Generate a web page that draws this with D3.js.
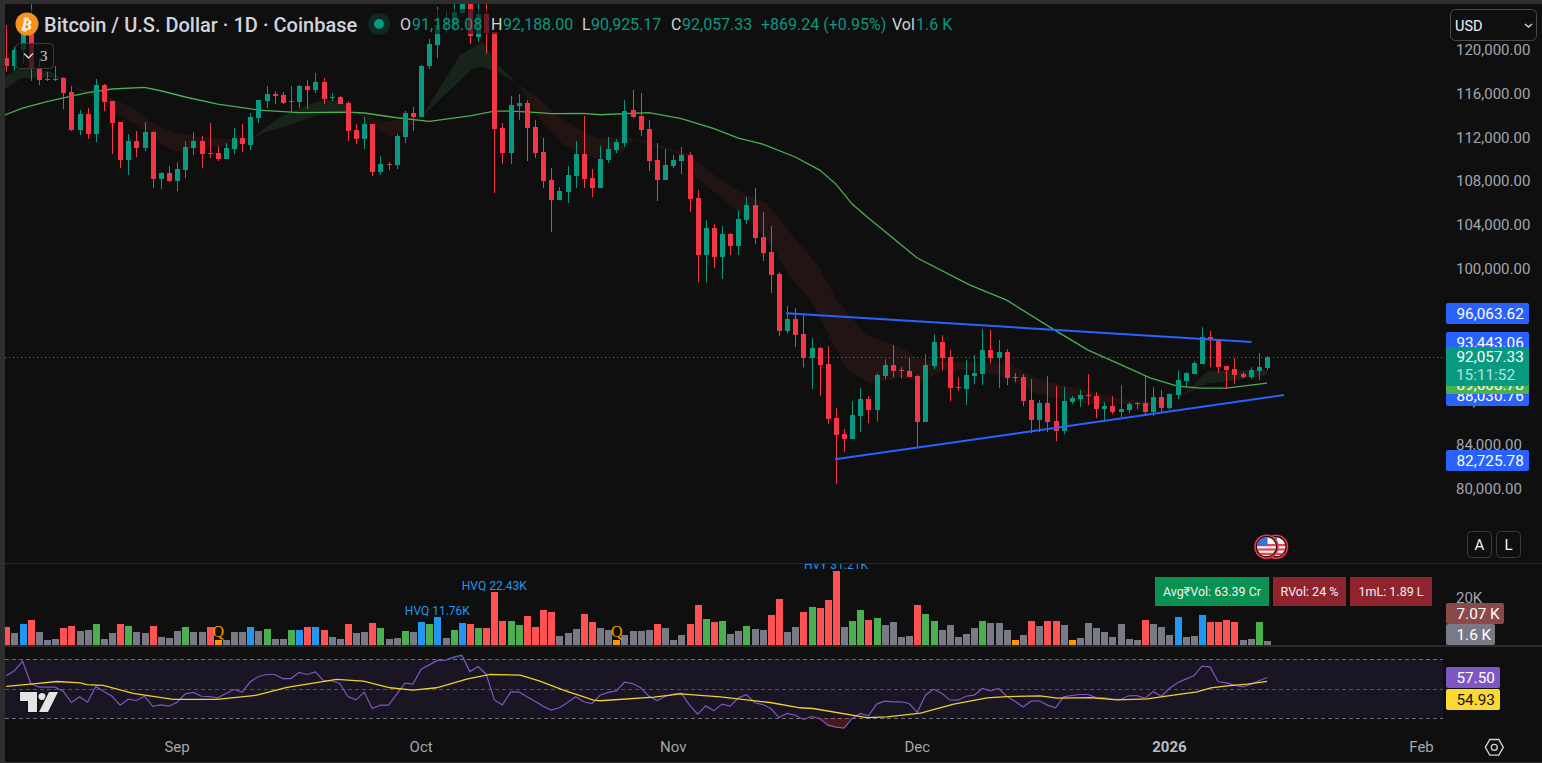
<!DOCTYPE html>
<html><head><meta charset="utf-8">
<style>
html,body{margin:0;padding:0;background:#0f0f0f;overflow:hidden}
svg{display:block}
text{font-family:Roboto,"Noto Sans",sans-serif}
</style>
<script src="https://cdn.jsdelivr.net/npm/d3@7/dist/d3.min.js"></script>
</head><body><svg id="c" width="1542" height="763"></svg>
<script>
// Daily candles, thousands of USD (index 0 = 11 Aug 2025)
const opens=[119.19,118.49,119.95,121.47,118.22,117.24,117.28,117.40,116.12,112.65,114.08,112.29,116.76,115.30,113.38,109.92,111.65,111.01,112.47,108.19,108.73,108.00,109.01,111.01,111.65,110.53,110.53,110.01,110.92,111.92,111.29,113.75,115.30,115.94,115.85,115.24,115.21,116.67,116.30,117.03,115.57,115.66,115.12,112.65,111.83,113.20,108.82,109.58,109.46,112.02,114.20,113.84,118.49,120.41,122.20,122.23,123.35,125.30,121.17,123.23,121.59,112.84,110.56,114.84,115.12,112.93,110.65,108.10,106.27,107.00,108.46,110.47,108.28,107.37,109.92,110.83,111.47,114.48,113.93,112.75,109.92,108.10,109.37,109.83,110.38,106.45,101.26,103.72,101.08,103.17,102.08,104.45,105.82,102.90,101.53,99.52,94.33,95.42,94.05,91.86,92.78,91.32,86.39,84.93,84.48,86.57,88.12,87.12,90.22,91.22,90.77,90.68,90.22,86.03,91.13,93.32,91.95,89.22,89.04,90.22,90.40,92.60,91.86,92.41,90.13,90.13,88.03,86.21,87.76,86.12,85.21,87.85,88.12,88.49,88.40,87.21,87.49,86.94,87.12,87.70,87.76,86.94,88.31,87.30,88.49,89.77,90.40,91.32,93.78,93.60,91.13,90.86,90.41,90.13,90.68,90.95];
const highs=[122.23,120.25,121.93,124.11,119.19,117.97,118.49,117.46,116.67,114.48,114.66,117.31,116.85,115.30,113.38,112.29,112.56,113.38,112.56,108.82,109.37,109.73,111.65,112.47,112.11,113.29,111.19,111.47,112.84,113.20,114.20,115.39,116.67,116.21,116.12,116.67,116.76,117.21,117.85,117.40,116.03,115.75,115.30,113.20,113.84,113.20,110.28,109.74,112.29,114.39,114.75,118.58,120.95,123.87,123.50,124.15,125.50,126.20,124.15,124.15,121.59,113.29,115.76,115.94,115.39,113.57,111.93,109.19,107.46,109.37,111.65,113.93,109.10,111.20,112.02,111.83,115.39,116.30,116.03,113.57,111.47,110.92,110.38,111.11,110.65,107.18,104.45,104.08,103.90,103.26,105.36,106.55,107.37,105.18,103.90,99.71,96.61,96.42,95.79,93.69,92.87,92.96,87.30,85.39,87.94,89.13,88.40,90.50,91.77,93.05,91.04,91.86,90.31,92.23,94.05,93.96,92.59,90.13,91.68,92.14,94.51,94.42,93.51,92.69,90.50,90.41,89.95,88.03,90.22,89.31,89.22,88.40,88.95,90.41,88.76,87.85,88.40,89.40,87.85,87.85,90.22,89.22,88.95,88.67,90.77,90.59,91.59,94.69,94.33,93.60,91.13,91.86,90.59,91.04,92.32,92.05];
const lows=[117.97,118.07,118.73,117.15,116.76,117.12,117.12,114.57,112.56,112.20,111.83,111.56,114.39,110.47,109.19,108.55,110.19,110.74,107.36,107.27,107.91,107.09,108.28,110.37,109.19,110.10,109.83,110.01,110.47,110.65,110.83,113.29,114.66,115.03,115.03,114.30,114.66,114.57,116.03,115.03,115.30,115.03,111.65,111.38,110.92,108.46,108.55,109.01,109.10,111.47,112.56,113.84,118.22,119.22,121.50,121.77,123.23,120.50,120.68,119.58,106.91,109.55,109.55,113.57,109.83,110.10,107.37,103.35,106.27,106.00,107.37,107.37,106.55,107.37,109.65,110.56,111.11,113.75,112.11,108.92,106.18,108.10,109.19,108.64,105.18,98.79,98.79,100.07,99.07,101.26,101.26,104.08,102.26,100.71,97.79,93.87,94.14,92.87,91.04,89.04,88.40,85.85,80.37,83.29,84.48,85.11,85.94,86.12,89.95,90.13,90.04,90.13,83.66,86.03,90.86,90.77,87.94,88.86,87.58,89.49,89.40,91.41,89.13,89.40,89.68,87.49,85.02,85.11,85.11,84.30,84.93,87.67,87.40,87.58,86.39,86.21,86.76,86.48,86.85,87.21,86.57,86.57,86.94,87.21,88.12,89.13,90.40,91.32,91.04,90.50,89.04,89.49,90.04,89.95,89.86,90.77];
const closes=[118.49,119.95,121.47,118.28,117.21,117.31,117.34,116.06,112.65,114.08,112.29,116.76,115.21,113.29,109.92,111.65,111.01,112.47,108.19,108.73,108.00,109.10,111.10,111.65,110.47,110.47,110.01,111.01,111.92,111.38,113.84,115.39,115.94,115.75,115.12,115.30,116.67,116.30,117.03,115.48,115.63,115.03,112.56,111.83,113.20,108.82,109.55,109.52,112.11,114.20,113.84,118.49,120.50,122.23,122.30,123.42,124.90,121.17,123.23,121.53,112.75,110.56,114.94,115.12,112.84,110.56,108.00,106.27,107.09,108.55,110.47,108.19,107.37,110.01,110.92,111.56,114.39,113.84,112.66,109.83,108.10,109.46,109.92,110.38,106.36,101.26,103.72,101.08,103.17,102.08,104.54,105.82,102.81,101.44,99.43,94.32,95.42,93.96,91.86,92.78,91.22,86.30,84.84,84.48,86.66,88.12,87.12,90.31,91.22,90.68,90.68,90.13,86.03,91.22,93.32,91.86,89.13,89.13,90.31,90.50,92.60,91.86,92.41,90.04,90.07,87.94,86.21,87.76,86.03,85.21,87.94,88.22,88.49,88.43,87.21,87.49,86.94,87.21,87.67,87.76,86.94,88.31,87.30,88.58,89.86,90.50,91.41,93.78,93.51,91.04,90.77,90.31,90.13,90.77,91.04,91.96];

// Volume, thousands of BTC, with the highlight class of each bar (ten days per string)
const volumes=[7.62,5.08,8.90,10.59,5.51,2.12,2.54,7.20,8.05,5.93,6.35,8.90,2.54,5.08,8.90,8.05,5.51,5.08,8.05,3.39,2.97,5.93,7.62,5.51,5.51,7.62,2.12,2.12,5.51,5.51,7.62,5.93,6.78,2.54,2.54,6.35,6.35,7.62,7.62,6.35,3.39,2.54,8.90,5.08,5.51,9.32,7.20,2.54,2.97,5.93,5.51,9.74,8.90,11.76,2.97,6.35,9.32,8.90,7.20,7.20,22.43,10.17,10.17,8.47,12.28,7.62,14.83,13.98,3.81,5.08,6.78,13.13,9.74,7.20,6.35,2.12,4.24,5.93,5.93,6.35,8.90,7.20,2.12,4.24,8.90,16.94,11.01,9.74,10.17,4.66,5.93,8.05,6.78,6.35,12.71,19.49,5.51,7.62,13.98,16.10,15.67,19.06,31.21,7.62,10.17,14.83,10.59,11.44,8.47,9.74,3.39,3.81,16.94,13.13,10.17,6.35,8.47,3.39,4.66,7.20,10.17,9.32,9.32,6.35,2.12,4.24,10.17,8.05,10.17,10.17,8.47,2.12,2.97,9.32,7.20,5.51,3.39,8.90,2.54,2.12,10.59,8.90,7.62,4.24,11.86,3.39,3.81,12.71,9.74,9.74,10.59,9.74,2.12,2.54,9.74,1.60];
const volumeClass=["rnbrnnnrrn","ngnnrgnnrn","nngnnrqnnn","bngnngbrbr","nnrnnrgnng","nbgbngbrgr","rrggrrrrnn","nrrnnqnnnn","rnnnrrgrgn","ngnnrrnnrg","rrrnggrgnn","nnrggnnnnn","gnnnqnrnrr","nqnnnnnnnn","rnnnbnnbrr","rrnngn"].join("").split("");

// RSI and its moving average
const rsi=[58.7,62.1,68.7,53.4,50.9,50.9,50.9,48.2,40.4,44.3,40.6,51.4,47.9,44.7,38.6,42.7,41.8,44.7,37.7,38.8,37.9,40.6,46.3,47.3,44.7,44.5,43.6,46.6,49.3,47.5,54.6,58.2,59.6,59.6,56.8,56.8,61.0,59.6,61.4,55.3,55.3,53.4,44.5,42.2,47.5,36.3,38.6,38.6,46.1,53.7,53.0,63.2,66.2,69.2,69.4,71.5,72.8,61.6,65.1,59.8,42.2,38.8,47.5,47.7,44.3,41.3,37.9,35.2,36.8,40.4,44.3,40.9,39.7,45.4,47.3,48.4,54.3,53.4,50.5,44.7,41.8,44.5,46.1,46.8,38.6,32.4,38.1,34.7,39.3,37.9,43.6,45.7,40.4,39.0,36.3,30.1,32.9,31.7,28.8,30.8,29.5,24.9,23.5,22.8,29.5,32.9,31.3,39.3,41.3,40.9,40.9,39.7,33.6,45.4,49.5,46.8,42.2,42.0,44.7,45.4,50.0,48.4,50.0,44.7,41.3,37.4,41.3,41.6,38.6,36.8,44.3,45.2,45.9,45.9,43.8,43.6,42.5,42.5,45.0,45.2,43.2,47.9,44.7,50.0,53.9,56.4,58.7,65.3,64.8,54.6,53.9,52.3,51.1,52.7,55.3,57.5];
const rsiMaDays=[0,3.3,6.2,9.1,9.9,11.9,15.6,20.5,25.9,30.8,34.5,40.6,43.9,47.2,50,52.9,56.6,59.5,63.2,65.6,68.5,72.2,73,79.6,82.9,87.8,93.9,97.6,99.2,105.8,108.3,112.4,116.5,120.6,123,127.1,129.2,133.3,136.6,140.3,143.5,146.4,148.1,150.1,152.6,155];
const rsiMa=[51.4,53.2,54.8,53.9,52.7,52.1,46.6,42.5,42.5,45.4,50.7,56.2,55.0,50.5,48.9,50.5,56.4,59.6,59.1,55.0,48.9,42.0,41.6,44.1,46.3,44.3,40.4,36.8,36.3,30.1,30.6,33.1,39.3,43.6,44.5,45.0,43.4,43.8,42.2,42.9,45.4,47.7,50.5,51.8,53.0,54.93];

// Slow moving average (green line), thousands of USD
const smaDays=[-0.2,2,5,8,10,13,17,19,22,26,31,36,42,44,48,52,57,60,62,65,67,71,73,79,83,87,90,93,97,100,102,104,106,107.5,112,118.5,123,128.7,133,136.6,140.7,144,146.8,150,153,155];
const sma=[114.03,114.66,115.24,115.76,116.06,116.40,116.55,116.24,115.67,115.03,114.48,114.24,114.30,114.21,113.78,113.45,113.94,114.39,114.39,114.27,114.15,114.18,114.05,114.24,113.69,112.78,111.93,111.38,110.20,109.01,107.73,105.91,104.63,103.72,100.99,98.52,97.15,94.51,92.60,91.41,90.04,89.31,89.13,89.13,89.40,89.59];

// Moving-average ribbon, one pair of edges per stretch: [day, price]
const ribbonBull1Up=[[-0.2,117.52],[1.7,118.28],[5.4,117.97],[7.2,117.27]];
const ribbonBull1Lo=[[-0.2,116.39],[1.9,117.40],[5.4,117.46],[7.2,117.27]];
const ribbonBear1Up=[[7.2,117.27],[9.1,116.45],[12.7,115.69],[15.6,114.63],[17.7,113.41],[20.5,112.44],[23.8,112.05],[27.9,111.74],[30,111.89]];
const ribbonBear1Lo=[[7.2,117.27],[9.1,116.15],[11.5,115.39],[13.6,114.17],[16.4,112.96],[18.9,111.44],[20.9,110.68],[24.6,111.13],[27.9,111.13],[30,111.80]];
const ribbonBull2Up=[[30,111.80],[32,112.96],[34.1,114.02],[38.2,115.24],[41,115.39],[42.7,114.39]];
const ribbonBull2Lo=[[30,111.80],[32,112.50],[35.3,113.20],[38.2,114.02],[41,114.17],[42.7,114.39]];
const ribbonBear2Up=[[42.7,114.39],[46.4,113.41],[51.1,113.87]];
const ribbonBear2Lo=[[42.7,114.39],[45.5,112.81],[47.2,112.05],[48.8,112.50],[51.1,113.87]];
const ribbonBull3Up=[[51.1,113.87],[55.8,119.49],[58.6,120.71],[60.3,118.73],[62.8,116.91]];
const ribbonBull3Lo=[[51.1,113.87],[54.1,116.0],[57.4,118.28],[58.6,118.43],[60.3,117.97],[62.8,116.91]];
const ribbonBear3Up=[[62.8,116.91],[65.2,115.70],[67.7,114.02],[70.2,112.81],[72.6,111.90],[76.3,112.05],[78.8,111.59],[83.7,110.53],[87,108.55],[90.2,107.03],[93.5,105.97],[96.8,102.93],[99.9,100.19],[102.1,97.15],[105.8,93.96],[110.3,92.75],[112,91.83],[115.25,91.53],[123.4,91.38],[126.7,90.01],[128.4,89.70],[132.5,88.95],[136.6,88.19],[140.7,87.88],[144.4,88.34]];
const ribbonBear3Lo=[[62.8,116.91],[66,113.26],[68.5,111.29],[70.6,110.53],[73,109.92],[75.5,110.53],[77.1,111.74],[78.8,111.44],[83.7,110.22],[84.9,108.25],[87.8,106.58],[91.1,104.45],[94.3,102.02],[96,99.58],[98.9,97.15],[103.4,90.77],[106.2,89.55],[109.5,90.01],[112.8,89.86],[115.25,90.77],[118.5,90.77],[122.6,90.16],[126.7,88.64],[128.4,88.34],[130.4,88.03],[133.3,87.73],[136.6,87.73],[140.7,87.43],[144.4,88.34]];
const ribbonBull4Up=[[144.4,88.34],[147.6,90.62],[150.9,90.77],[155,90.77]];
const ribbonBull4Lo=[[144.4,88.34],[147.6,89.55],[150.9,89.86],[155,90.31]];

// Hand-drawn trend lines: [day, price]
const trendUpper=[[95.9,95.95],[153.1,93.34]];
const trendLower=[[101.9,82.64],[157.1,88.50]];

// Axis labels
const priceTicks=[120,116,112,108,104,100,96,92,88,84,80];
const monthDays=[21,51,82,112,143,174];
const monthLabels=["Sep","Oct","Nov","Dec","2026","Feb"];
const hvLabels=[{day:53,text:"HVQ 11.76K"},{day:60,text:"HVQ 22.43K"},{day:102,text:"HVY 31.21K"}];
const qDays=[26,75];

const W=1542,H=763,RIGHT=1443,TOP=4,LEFT=5;
const BG="#0f0f0f",UP="#089981",DN="#f23645";
const VOLCOL={r:"#ff5252",g:"#4caf50",b:"#2196f3",n:"#787b86",q:"#ff9800"};

const x=d3.scaleLinear().domain([0,155]).range([6.3,1267]);
const y=d3.scaleLinear().domain([120,80]).range([49.5,488.3]);
const yVol=d3.scaleLinear().domain([0,20]).range([645,597.8]);
const yRsi=d3.scaleLinear().domain([70,30]).range([659.3,717.7]);

const svg=d3.select("#c");
svg.append("rect").attr("width",W).attr("height",H).attr("fill",BG);
const defs=svg.append("defs");
const clip=(id,a,b,c,d)=>defs.append("clipPath").attr("id",id).append("rect").attr("x",a).attr("y",b).attr("width",c-a).attr("height",d-b);
clip("plot",LEFT,TOP,RIGHT,563);
clip("volp",LEFT,564,RIGHT,645);
clip("rsip",LEFT,647,RIGHT,735);
clip("below30",LEFT,717.7,RIGHT,735);
clip("above70",LEFT,647,RIGHT,659.3);

// ---- price pane
const pp=svg.append("g").attr("clip-path","url(#plot)");
const lineP=d3.line().x(d=>x(d[0])).y(d=>y(d[1]));
const ribbons=[[ribbonBull1Up,ribbonBull1Lo,1],[ribbonBear1Up,ribbonBear1Lo,0],[ribbonBull2Up,ribbonBull2Lo,1],[ribbonBear2Up,ribbonBear2Lo,0],[ribbonBull3Up,ribbonBull3Lo,1],[ribbonBear3Up,ribbonBear3Lo,0],[ribbonBull4Up,ribbonBull4Lo,1]];
pp.selectAll("path.rb").data(ribbons).join("path").attr("class","rb")
  .attr("d",d=>lineP(d[0].concat(d[1].slice().reverse()))+"Z")
  .attr("fill",d=>d[2]?"#18231a":"#211413");
pp.append("path").datum(smaDays.map((d,i)=>[d,sma[i]])).attr("d",lineP)
  .attr("fill","none").attr("stroke","#4caf50").attr("stroke-width",1.3);
pp.append("line").attr("x1",LEFT).attr("x2",RIGHT).attr("y1",Math.round(y(closes[155]))+.5).attr("y2",Math.round(y(closes[155]))+.5)
  .attr("stroke",UP).attr("stroke-dasharray","1 3");
const cg=pp.append("g");
opens.forEach((o,i)=>{
  const c=closes[i],col=c>=o?UP:DN,cx=Math.round(x(i));
  cg.append("line").attr("x1",cx+.5).attr("x2",cx+.5).attr("y1",y(highs[i])).attr("y2",y(lows[i])).attr("stroke",col);
  const t=y(Math.max(o,c)),b=y(Math.min(o,c));
  cg.append("rect").attr("x",cx-2).attr("width",5).attr("y",Math.round(t)).attr("height",Math.max(1,Math.round(b-t))).attr("fill",col);
});
[trendUpper,trendLower].forEach(t=>pp.append("path").datum(t).attr("d",lineP).attr("fill","none").attr("stroke","#2962ff").attr("stroke-width",2));

// legend backdrops dim the candles beneath them
svg.append("rect").attr("x",LEFT+5).attr("y",9).attr("width",950).attr("height",25).attr("fill",BG).attr("opacity",.6);
svg.append("rect").attr("x",15).attr("y",43).attr("width",39).attr("height",26).attr("fill",BG).attr("opacity",.7);

// ---- price axis
const ax=svg.append("g").attr("transform","translate(1450,0)").call(d3.axisRight(y).tickValues(priceTicks).tickSize(0).tickPadding(6).tickFormat(d=>d3.format(",.2f")(d*1000)));
ax.select(".domain").remove();
ax.selectAll("text").attr("fill","#a3a6af").attr("font-size",15).style("font-family","Roboto");

// ---- volume pane
const vp=svg.append("g").attr("clip-path","url(#volp)");
vp.selectAll("rect").data(volumes).join("rect")
  .attr("x",(d,i)=>Math.round(x(i))-3).attr("width",7)
  .attr("y",d=>Math.round(yVol(d))).attr("height",d=>645-Math.round(yVol(d)))
  .attr("fill",(d,i)=>VOLCOL[volumeClass[i]]);
vp.selectAll("text.hv").data(hvLabels).join("text").attr("class","hv")
  .attr("x",d=>x(d.day)).attr("y",d=>yVol(volumes[d.day])-2).attr("text-anchor","middle")
  .attr("font-size",12).attr("fill","#2196f3").text(d=>d.text);
vp.selectAll("text.q").data(qDays).join("text").attr("class","q")
  .attr("x",d=>x(d)+.5).attr("y",d=>yVol(volumes[d])-3).attr("text-anchor","middle")
  .attr("font-size",16).attr("fill","#ff9800").style("font-family","'Liberation Serif'").text("Q");
const vax=svg.append("g").attr("transform","translate(1450,0)").call(d3.axisRight(yVol).tickValues([20]).tickSize(0).tickPadding(6).tickFormat(d=>d+"K"));
vax.select(".domain").remove();
vax.selectAll("text").attr("fill","#a3a6af").attr("font-size",15).style("font-family","Roboto");

// ---- rsi pane
const rp=svg.append("g").attr("clip-path","url(#rsip)");
rp.append("rect").attr("x",LEFT).attr("y",yRsi(70)).attr("width",RIGHT-LEFT+2).attr("height",yRsi(30)-yRsi(70)).attr("fill","#191522");
[70,50,30].forEach(v=>rp.append("line").attr("x1",LEFT).attr("x2",RIGHT+2).attr("y1",Math.round(yRsi(v))+.5).attr("y2",Math.round(yRsi(v))+.5)
  .attr("stroke","#787b86").attr("stroke-opacity",v==50?.6:.9).attr("stroke-dasharray","4 3"));
rp.append("path").datum(rsi).attr("clip-path","url(#below30)")
  .attr("d",d3.area().x((d,i)=>x(i)).y0(yRsi(30)).y1(d=>yRsi(d))).attr("fill","#f23645").attr("opacity",.25);
rp.append("path").datum(rsi).attr("clip-path","url(#above70)")
  .attr("d",d3.area().x((d,i)=>x(i)).y0(yRsi(70)).y1(d=>yRsi(d))).attr("fill","#089981").attr("opacity",.25);
rp.append("path").datum(rsi).attr("d",d3.line().x((d,i)=>x(i)).y(d=>yRsi(d))).attr("fill","none").attr("stroke","#7e57c2").attr("stroke-width",1.2);
rp.append("path").datum(rsiMaDays.map((d,i)=>[d,rsiMa[i]])).attr("d",d3.line().x(d=>x(d[0])).y(d=>yRsi(d[1]))).attr("fill","none").attr("stroke","#f0cf30").attr("stroke-width",1.3);

// TradingView mark
const tv=svg.append("g").attr("fill","#e4e4e4").attr("stroke","#0f0f0f").attr("stroke-width",2).attr("paint-order","stroke");
tv.append("path").attr("d","M20 692H37V712H28V701H20Z");
tv.append("circle").attr("cx",42).attr("cy",696.5).attr("r",3.6);
tv.append("path").attr("d","M49 692H58L48 712H39Z");

// ---- separators and frame
svg.append("rect").attr("x",LEFT).attr("y",563).attr("width",W).attr("height",1).attr("fill","#2a2a2a");
svg.append("rect").attr("x",LEFT).attr("y",645).attr("width",W).attr("height",2).attr("fill","#2a2a2a");
svg.append("rect").attr("width",W).attr("height",TOP).attr("fill","#2e2e2e");
svg.append("rect").attr("width",LEFT).attr("height",H).attr("fill","#2e2e2e");
svg.append("rect").attr("y",762).attr("width",W).attr("height",1).attr("fill","#2e2e2e");

// ---- axis tags
function tag(x0,x1,y0,y1,fill,lines,col){
  svg.append("rect").attr("x",x0).attr("y",y0).attr("width",x1-x0).attr("height",y1-y0).attr("rx",2).attr("fill",fill);
  lines.forEach(l=>svg.append("text").attr("x",l[2]||x0+10.5).attr("y",l[1]).attr("font-size",15.3).attr("fill",l[3]||col).text(l[0]));
}
tag(1446,1529,303,324,"#2962ff",[["96,063.62",319]],"#fff");
tag(1446,1529,385,406,"#2962ff",[["88,030.76",401]],"#fff");
tag(1446,1529,374,394,"#4caf50",[["89,608.78",390]],"#fff");
tag(1446,1529,332,353,"#2962ff",[["93,443.06",347.5]],"#fff");
tag(1446,1529,347,386,UP,[["92,057.33",362],["15:11:52",380,1456,"#b7e0d8"]],"#fff");
tag(1446,1529,450,471,"#2962ff",[["82,725.78",465.5]],"#fff");
tag(1446,1504,603,624,"#8b4a4a",[["7.07 K",619]],"#fff");
tag(1446,1495,624,645,"#787b86",[["1.6 K",640]],"#fff");
tag(1446,1500,667,688,"#7e57c2",[["57.50",682.5]],"#fff");
tag(1446,1500,689,710,"#fdd835",[["54.93",705]],"#111");

// stat chips
[[1155,1269,"#089150","Avg₹Vol: 63.39 Cr"],[1273,1346,"#90242e","RVol: 24 %"],[1350,1432,"#90242e","1mL: 1.89 L"]].forEach(c=>{
  svg.append("rect").attr("x",c[0]).attr("y",577).attr("width",c[1]-c[0]).attr("height",29).attr("fill",c[2]);
  svg.append("text").attr("x",(c[0]+c[1])/2).attr("y",596).attr("text-anchor","middle").attr("font-size",12.5).attr("fill","#f0f0f0").text(c[3]);
});

// ---- time axis
svg.selectAll("text.m").data(monthLabels).join("text").attr("class","m")
  .attr("x",(d,i)=>x(monthDays[i])).attr("y",752).attr("text-anchor","middle").attr("font-size",15)
  .attr("font-weight",d=>d==="2026"?700:400).attr("fill",d=>d==="2026"?"#b8bbc2":"#a3a6af").text(d=>d);
const hex=d3.range(6).map(i=>[1494.3+9*Math.cos(i*Math.PI/3),747.3+9*Math.sin(i*Math.PI/3)]);
svg.append("path").attr("d",d3.line()(hex)+"Z").attr("fill","none").attr("stroke","#d1d4dc").attr("stroke-width",1.3);
svg.append("circle").attr("cx",1494.3).attr("cy",747.3).attr("r",3).attr("fill","none").attr("stroke","#d1d4dc").attr("stroke-width",1.3);

// ---- legend
svg.append("circle").attr("cx",27).attr("cy",24).attr("r",11.5).attr("fill","#f7931a");
svg.append("text").attr("x",27).attr("y",29.5).attr("text-anchor","middle").attr("font-size",15).attr("font-weight",700).attr("fill","#fff").style("font-family","'DejaVu Sans'").attr("transform","rotate(12 27 24)").text("₿");
svg.append("text").attr("x",44).attr("y",31.5).attr("font-size",20).attr("font-weight",500).attr("fill","#d1d4dc").text("Bitcoin / U.S. Dollar · 1D · Coinbase");
svg.append("circle").attr("cx",379).attr("cy",24).attr("r",11).attr("fill","#0f2a26");
svg.append("circle").attr("cx",379).attr("cy",24).attr("r",5).attr("fill",UP);
const lg=[["O",400,"#d1d4dc"],["91,188.08",412,UP],["H",491,"#d1d4dc"],["92,188.00",503,UP],["L",582,"#d1d4dc"],["90,925.17",591,UP],["C",671,"#d1d4dc"],["92,057.33",682,UP],["+869.24 (+0.95%)",761,UP],["Vol",892,"#d1d4dc"],["1.6 K",916,UP]];
lg.forEach(l=>svg.append("text").attr("x",l[1]).attr("y",30).attr("font-size",16).attr("fill",l[2]).text(l[0]));

// collapse button
svg.append("rect").attr("x",15.5).attr("y",43.5).attr("width",38).attr("height",25).attr("rx",4).attr("fill","none").attr("stroke","#3a3a3a");
svg.append("path").attr("d","M24 53.5L28.5 58L33 53.5").attr("fill","none").attr("stroke","#d1d4dc").attr("stroke-width",1.5);
svg.append("text").attr("x",40).attr("y",61).attr("font-size",15).attr("fill","#d1d4dc").style("font-family","'Liberation Serif'").text("3");

// currency box
svg.append("rect").attr("x",1450.5).attr("y",9.5).attr("width",86).attr("height",31).attr("rx",5).attr("fill",BG).attr("stroke","#4a4a4a");
svg.append("text").attr("x",1455).attr("y",31).attr("font-size",14.5).attr("fill","#f0f3fa").text("USD");
svg.append("path").attr("d","M1525 24L1528.5 27L1532 24").attr("fill","none").attr("stroke","#d1d4dc").attr("stroke-width",1.4);

// A / L buttons
[[1467,"A"],[1496,"L"]].forEach(b=>{
  svg.append("rect").attr("x",b[0]+.5).attr("y",531.5).attr("width",24).attr("height",26).attr("rx",4).attr("fill","none").attr("stroke","#3a3a3a");
  svg.append("text").attr("x",b[0]+12.5).attr("y",550).attr("text-anchor","middle").attr("font-size",15).attr("fill","#f0f3fa").text(b[1]);
});

// news flags
function flag(cx){
  const g=svg.append("g");
  const id="f"+Math.round(cx);
  defs.append("clipPath").attr("id",id).append("circle").attr("cx",cx).attr("cy",546.7).attr("r",9.5);
  g.append("circle").attr("cx",cx).attr("cy",546.7).attr("r",11.5).attr("fill",BG).attr("stroke",DN).attr("stroke-width",1.6);
  const f=g.append("g").attr("clip-path",`url(#${id})`);
  f.append("rect").attr("x",cx-10).attr("y",537).attr("width",20).attr("height",20).attr("fill","#f5f5f5");
  d3.range(3).forEach(i=>f.append("rect").attr("x",cx-10).attr("y",544+i*4.4).attr("width",20).attr("height",2.2).attr("fill","#e8454f"));
  f.append("rect").attr("x",cx-10).attr("y",537).attr("width",11).attr("height",9).attr("fill","#3b6fd6");
}
flag(1276);flag(1266.5);
</script></body></html>
